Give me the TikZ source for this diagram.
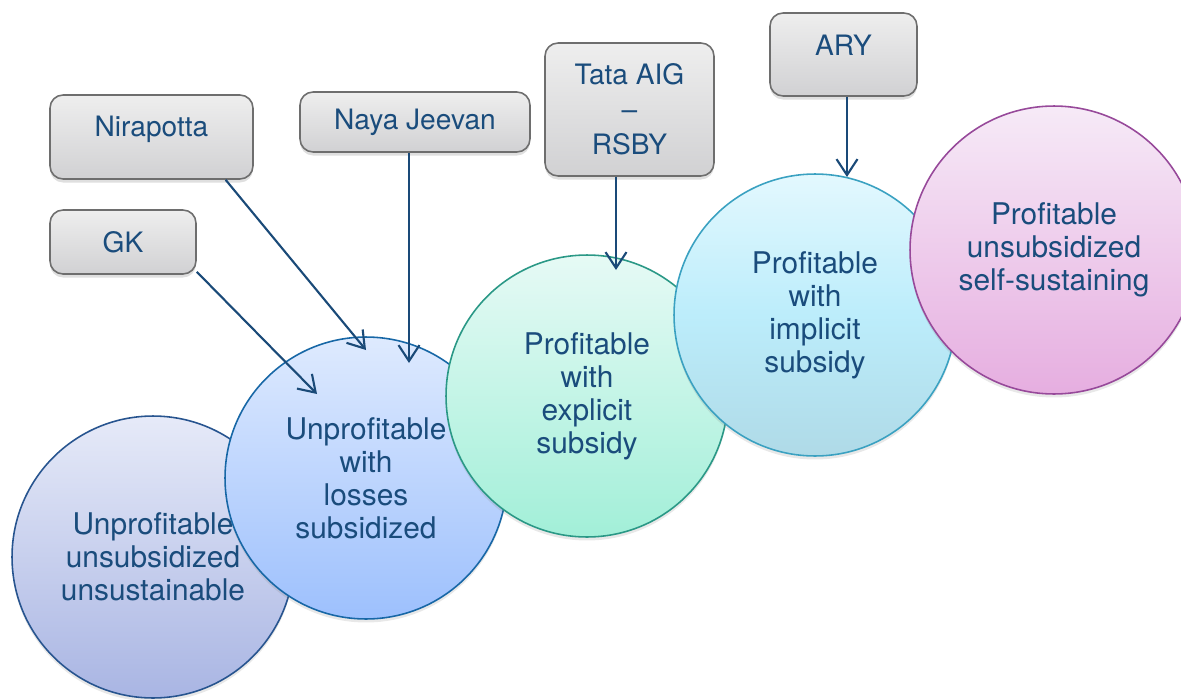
\documentclass[tikz,border=0pt]{standalone}
\usepackage{fontspec}
\setmainfont{TeX Gyre Heros}
\usepackage{tikz}
\usetikzlibrary{arrows.meta,shadows}

\definecolor{ink}{HTML}{1A4C7C}
\definecolor{arrowc}{HTML}{1A4A78}
\definecolor{boxtop}{HTML}{EEEEEE}
\definecolor{boxbot}{HTML}{D1D1D3}
\definecolor{boxline}{HTML}{6E6E6E}
\definecolor{topA}{HTML}{E6EAF8}  \definecolor{botA}{HTML}{A9B5E3}  \definecolor{lineA}{HTML}{27548F}
\definecolor{topB}{HTML}{DEEAFE}  \definecolor{botB}{HTML}{9DC0FD}  \definecolor{lineB}{HTML}{1767A6}
\definecolor{topC}{HTML}{E6FAF5}  \definecolor{botC}{HTML}{A2EFD8}  \definecolor{lineC}{HTML}{2A9886}
\definecolor{topD}{HTML}{E3F8FE}  \definecolor{botD}{HTML}{AFDAE7}  \definecolor{lineD}{HTML}{3AA1C1}
\definecolor{midD}{HTML}{BCEDFB}
\definecolor{topE}{HTML}{F6EAF7}  \definecolor{botE}{HTML}{E6AEE0}  \definecolor{lineE}{HTML}{97499A}

\begin{document}
\begin{tikzpicture}[x=0.02cm, y=-0.02cm, >={Straight Barb[length=0.32cm,width=0.42cm]},
                    semithick]
    \tikzstyle{stage}=[circle, minimum size=5.64cm, inner sep=0pt, align=center,
                       text=ink, line width=0.9pt, font=\fontsize{17}{18.8}\selectfont,
                       drop shadow={opacity=0.18, shadow xshift=0pt, shadow yshift=-2pt}]
    \tikzstyle{player}=[rectangle, rounded corners=0.26cm, draw=boxline, line width=0.9pt,
                        top color=boxtop, bottom color=boxbot, text=ink, align=center,
                        font=\fontsize{16}{20}\selectfont,
                        drop shadow={opacity=0.25, shadow xshift=0pt, shadow yshift=-2pt}]
    \tikzstyle{link}=[->, draw=arrowc, line width=1.2pt]

    \useasboundingbox (0,0) rectangle (1181,700);

    \node[stage, draw=lineA, top color=topA, bottom color=botA] (S1) at (153,557)  {Unprofitable\\unsubsidized\\unsustainable};
    \node[stage, draw=lineB, top color=topB, bottom color=botB] (S2) at (366,478)  {Unprofitable\\with\\losses\\subsidized};
    \node[stage, draw=lineC, top color=topC, bottom color=botC] (S3) at (587,396)  {Profitable\\with\\explicit\\subsidy};
    \node[stage, draw=lineD, top color=topD, bottom color=botD,
          middle color=midD]                                    (S4) at (815,315)  {Profitable\\with\\implicit\\subsidy};
    \node[stage, draw=lineE, top color=topE, bottom color=botE,
          minimum size=5.76cm]                                  (S5) at (1054,250) {Profitable\\unsubsidized\\self-sustaining};

    \node[player, minimum width=4.06cm, minimum height=1.68cm, text depth=12.5pt] (NIR)  at (151.5,137) {Nirapotta};
    \node[player, minimum width=2.92cm, minimum height=1.28cm]                    (GK)   at (123,242)   {GK};
    \node[player, minimum width=4.6cm,  minimum height=1.2cm]                     (NAYA) at (415,122)   {Naya Jeevan};
    \node[player, minimum width=3.38cm, minimum height=2.66cm]                    (TATA) at (629.5,109.5) {Tata AIG\\–\\RSBY};
    \node[player, minimum width=2.94cm, minimum height=1.66cm, text depth=10.8pt] (ARY)  at (843.5,54.5) {ARY};

    \coordinate (gkend)   at (317,394);
    \coordinate (nirend)  at (366,350);
    \coordinate (nayaend) at (409,363);
    \coordinate (tataend) at (616,270);
    \coordinate (aryend)  at (847,177);

    \draw[link] (GK.-22)                -- (gkend);
    \draw[link] (NIR.-30)               -- (nirend);
    \draw[link] (NAYA.south -| nayaend) -- (nayaend);
    \draw[link] (TATA.south -| tataend) -- (tataend);
    \draw[link] (ARY.south -| aryend)   -- (aryend);
\end{tikzpicture}
\end{document}
